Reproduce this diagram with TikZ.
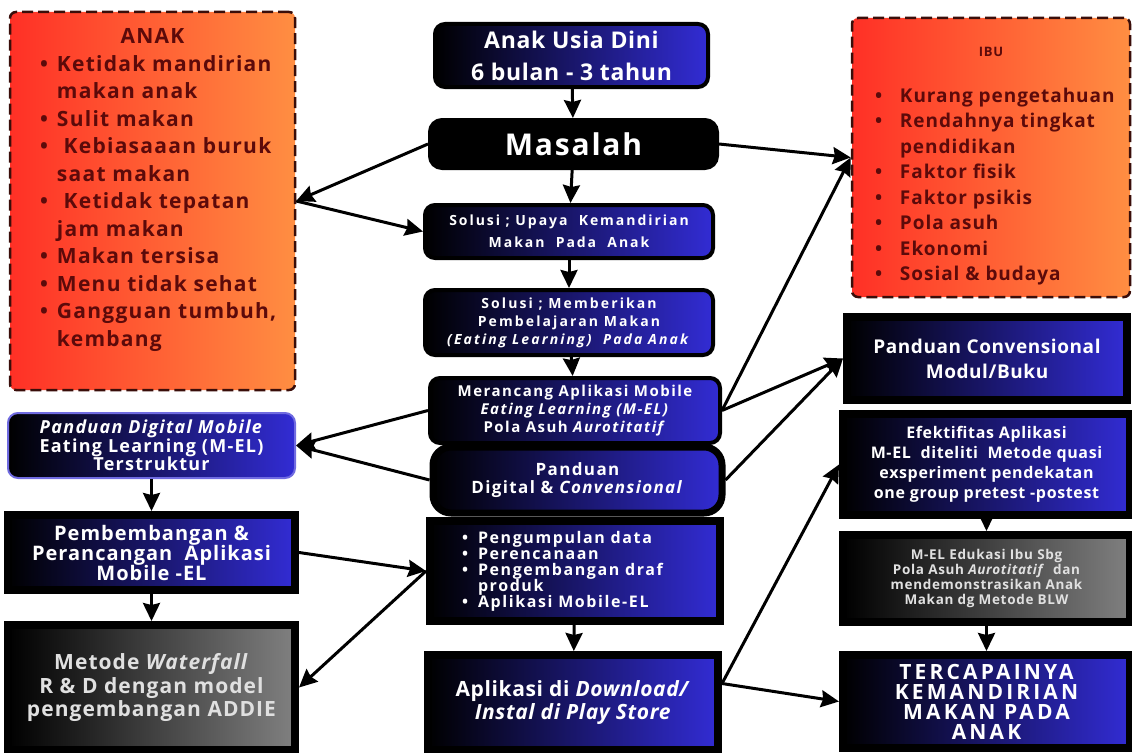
\documentclass[tikz,border=0pt]{standalone}
\usepackage{fontspec}
\setmainfont{Open Sans}
\usetikzlibrary{shapes.geometric, arrows, arrows.meta}
\definecolor{anakred}{RGB}{255,48,38}
\definecolor{anakorange}{RGB}{255,142,66}
\definecolor{dashbrown}{RGB}{58,14,10}
\definecolor{listtext}{RGB}{92,10,10}
\definecolor{boxblue}{RGB}{50,44,212}
\definecolor{greyend}{RGB}{128,128,128}
\newlength{\listw}
\newlength{\bulw}
\newcommand{\bul}[1]{\makebox[\listw][l]{\makebox[\bulw][l]{\textbullet}#1}}
\newcommand{\cnt}[1]{\makebox[\listw][l]{\hspace{\bulw}#1}}
\newcommand{\boxfont}[3]{\bfseries\fontsize{#1}{#2}\selectfont\addfontfeatures{LetterSpace=#3}}
\tikzstyle{problem} = [rectangle, rounded corners=6pt, draw=dashbrown, line width=2.5pt, dash pattern=on 11pt off 5pt, left color=anakred, right color=anakorange, text=listtext, align=center, inner sep=0pt]
\tikzstyle{roundbox} = [rectangle, rounded corners=10pt, draw=black, line width=4pt, left color=black, right color=boxblue, text=white, align=center, inner sep=0pt]
\tikzstyle{blackbox} = [rectangle, rounded corners=12pt, draw=black, line width=4pt, fill=black, text=white, align=center, inner sep=0pt]
\tikzstyle{squarebox} = [rectangle, draw=black, line width=8pt, left color=black, right color=boxblue, text=white, align=center, inner sep=0pt]
\tikzstyle{greybox} = [rectangle, draw=black, line width=8pt, left color=black, right color=greyend, text=white!88!black, align=center, inner sep=0pt]
\tikzstyle{arrow} = [line width=3pt,->,>={Stealth[length=18pt,width=17pt,inset=2pt]}]

\begin{document}
\begin{tikzpicture}[x=1pt, y=-1pt]
\fill [white] (0,0) rectangle (1132,752);
\useasboundingbox (0,0) rectangle (1132,752);

\node (usia) [roundbox, minimum width=273pt, minimum height=63pt, font=\boxfont{23}{32}{3}] at (571.5,55.5) {Anak Usia Dini\\6 bulan - 3 tahun};
\node (masalah) [blackbox, minimum width=287pt, minimum height=48pt, font=\boxfont{30}{34}{6}] at (573.5,144) {Masalah};
\draw [arrow] (usia) -- (masalah);

\node (anak) [problem, minimum width=285pt, minimum height=378pt, font=\boxfont{21}{27.5}{6},
  execute at begin node={\global\listw=225pt\global\bulw=17pt}] at (152.5,201)
  {ANAK\\ \bul{Ketidak mandirian}\\ \cnt{makan anak}\\ \bul{Sulit makan}\\ \bul{ Kebiasaaan buruk}\\ \cnt{saat makan}\\
   \bul{ Ketidak tepatan}\\ \cnt{jam makan}\\ \bul{Makan tersisa}\\ \bul{Menu tidak sehat}\\ \bul{Gangguan tumbuh,}\\ \cnt{kembang}\\ \mbox{}};
\draw [arrow] (masalah.west) -- (anak.east);

\node (upaya) [roundbox, minimum width=288pt, minimum height=53pt, font=\boxfont{14}{22}{14}] at (569,231.5) {Solusi ; Upaya\ \ Kemandirian\\Makan\ \ Pada\ \ Anak};
\draw [arrow] (anak.east) -- (upaya.west);
\draw [arrow] (masalah) -- (upaya);

\node (ibu) [problem, minimum width=278pt, minimum height=279pt, font=\boxfont{19}{25.5}{5},
  execute at begin node={\global\listw=232pt\global\bulw=25pt}] at (991,157.5)
  {\mbox{}\\[2pt] {\fontsize{13}{16}\selectfont IBU}\\[20pt] \bul{Kurang pengetahuan}\\ \bul{Rendahnya tingkat}\\ \cnt{pendidikan}\\ \bul{Faktor fisik}\\
   \bul{Faktor psikis}\\ \bul{Pola asuh}\\ \bul{Ekonomi}\\ \bul{Sosial \& budaya}};
\draw [arrow] (masalah.east) -- (ibu.west);

\node (belajar) [roundbox, minimum width=288pt, minimum height=65pt, font=\boxfont{14}{18}{15}] at (569,322.5) {Solusi ; Memberikan\\Pembelajaran Makan\\\textit{(Eating Learning)\ \ Pada Anak}};
\draw [arrow] (upaya) -- (belajar);

\node (rancang) [roundbox, minimum width=290pt, minimum height=65pt, font=\boxfont{15}{18}{10}] at (575,410.5) {Merancang Aplikasi Mobile\\\textit{Eating Learning (M-EL)}\\Pola Asuh \textit{Aurotitatif}};
\draw [arrow] (belajar) -- (rancang);
\draw [arrow] (rancang.east) -- (ibu.west);

\node (panduan) [roundbox, rounded corners=18pt, line width=7pt, minimum width=289pt, minimum height=66pt, font=\boxfont{17}{18}{8}] at (577.5,480) {Panduan\\Digital \& \textit{Convensional}};

\node (konvensional) [squarebox, minimum width=280pt, minimum height=83pt, font=\boxfont{19}{25}{3}] at (987,358.5) {Panduan Convensional\\Modul/Buku};
\draw [arrow] (rancang.east) -- (konvensional.west);
\draw [arrow] (panduan.east) -- (konvensional.west);

\node (digital) [roundbox, draw=boxblue!70!white, line width=2pt, minimum width=287pt, minimum height=65pt, font=\boxfont{18}{18.5}{7}] at (151.5,445.5) {\textit{Panduan Digital Mobile}\\Eating Learning (M-EL)\\Terstruktur};
\draw [arrow] (rancang.west) -- (digital.east);
\draw [arrow] (panduan.west) -- (digital.east);

\node (kembang) [squarebox, minimum width=287pt, minimum height=75pt, font=\boxfont{20}{20}{5}] at (151.5,552.5) {Pembembangan \&\\Perancangan\ \ Aplikasi\\Mobile -EL};
\draw [arrow] (digital) -- (kembang);

\node (waterfall) [greybox, minimum width=287pt, minimum height=125pt, font=\boxfont{21}{23.5}{5}] at (151.5,687.5) {Metode \textit{Waterfall}\\R \& D dengan model\\pengembangan ADDIE};
\draw [arrow] (kembang) -- (waterfall);

\node (tahapan) [squarebox, minimum width=290pt, minimum height=100pt, font=\boxfont{16}{16}{10},
  execute at begin node={\global\listw=226pt\global\bulw=16pt}] at (575,571)
  {\bul{Pengumpulan data}\\ \bul{Perencanaan}\\ \bul{Pengembangan draf}\\ \cnt{produk}\\ \bul{Aplikasi Mobile-EL}};
\draw [arrow] (kembang.east) -- (tahapan.west);
\draw [arrow] (tahapan.west) -- (waterfall.east);

\node (playstore) [squarebox, minimum width=290pt, minimum height=95pt, font=\boxfont{21}{23}{3}] at (573,702.5) {Aplikasi di \textit{Download/}\\\textit{Instal di Play Store}};
\draw [arrow] (tahapan) -- (playstore);

\node (efektif) [squarebox, minimum width=287pt, minimum height=101pt, font=\boxfont{16}{20}{4}] at (986.5,464.5) {Efektifitas Aplikasi\\M-EL\ \ diteliti\ \ Metode quasi\\exsperiment pendekatan\\one group pretest -postest};
\draw [arrow] ([yshift=19pt]playstore.east) -- (efektif.west);

\node (edukasi) [greybox, minimum width=287pt, minimum height=87pt, font=\boxfont{13.5}{15}{5}] at (986.5,578.5) {M-EL Edukasi Ibu Sbg\\Pola Asuh \textit{Aurotitatif}\ \ dan\\mendemonstrasikan Anak\\Makan dg Metode BLW};
\draw [arrow] (efektif) -- (edukasi);

\node (capai) [squarebox, minimum width=287pt, minimum height=93pt, font=\boxfont{21}{20}{15}] at (986.5,701.5) {TERCAPAINYA\\KEMANDIRIAN\\MAKAN PADA\\ANAK};
\draw [arrow] (edukasi) -- (capai);
\draw [arrow] ([yshift=19pt]playstore.east) -- (capai.west);

\end{tikzpicture}
\end{document}
